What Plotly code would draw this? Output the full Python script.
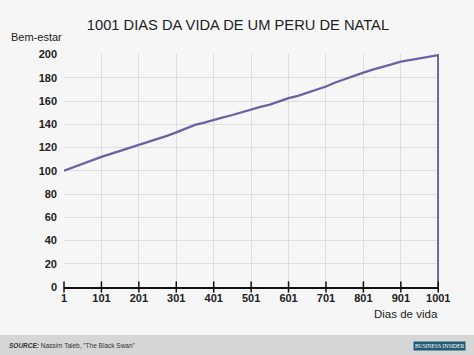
import plotly.graph_objects as go

# Data
days = [1, 26, 51, 76, 101, 126, 151, 176, 201, 226, 251, 276, 301, 326, 351, 376, 401, 426, 451, 476, 501,
        526, 551, 576, 601, 626, 651, 676, 701, 726, 751, 776, 801, 826, 851, 876, 901, 926, 951, 976, 1001, 1001]
wellbeing = [100, 103, 106, 109.5, 112, 114.5, 117, 119.5, 122, 124.5, 127, 130, 133, 136.5, 139.5, 141.5, 144, 146, 148, 150.5, 152.5,
             155, 157, 160, 162.5, 164.5, 167, 169.5, 172.5, 176, 179, 182, 184.5, 187, 189, 191.5, 194, 195.5, 197, 198, 199.5, 0]
x_ticks = [1, 101, 201, 301, 401, 501, 601, 701, 801, 901, 1001]
y_ticks = [0, 20, 40, 60, 80, 100, 120, 140, 160, 180, 200]

FONT = "Liberation Sans, Arial, sans-serif"

fig = go.Figure()
fig.add_trace(go.Scatter(
    x=days, y=wellbeing, mode="lines",
    line=dict(color="#6b62a3", width=2.3),
    hoverinfo="skip", showlegend=False, cliponaxis=False,
))
# tick marks crossing the x axis
fig.add_trace(go.Scatter(
    x=x_ticks, y=[0] * len(x_ticks), mode="markers",
    marker=dict(symbol="line-ns-open", size=8, color="#111", line=dict(color="#111", width=1.5)),
    hoverinfo="skip", showlegend=False, cliponaxis=False,
))

fig.update_layout(
    width=474, height=355,
    margin=dict(l=64, r=35, t=54, b=68),
    paper_bgcolor="#f6f6f6", plot_bgcolor="#f6f6f6",
    font=dict(family=FONT, color="#222"),
    title=dict(text="1001 DIAS DA VIDA DE UM PERU DE NATAL", x=0.502, xanchor="center",
               y=0.93, yanchor="middle", font=dict(size=14.7, color="#222", family=FONT)),
    xaxis=dict(
        range=[1, 1003], tickvals=x_ticks, ticktext=[str(v) for v in x_ticks],
        showgrid=True, gridcolor="#dedede", gridwidth=1,
        zeroline=False, showline=True, linecolor="#111", linewidth=1.5,
        ticks="", tickfont=dict(size=11, color="#222", family=FONT, weight="bold"),
        fixedrange=True,
    ),
    yaxis=dict(
        range=[0, 200.5], tickvals=y_ticks,
        showgrid=True, gridcolor="#dedede", gridwidth=1,
        zeroline=False, showline=False, ticks="",
        tickfont=dict(size=11, color="#222", family=FONT, weight="bold"),
        ticklabelstandoff=6, fixedrange=True,
    ),
    annotations=[
        dict(text="Bem-estar", xref="paper", yref="paper", x=-0.148, y=1.072,
             xanchor="left", yanchor="middle", showarrow=False,
             font=dict(size=11, color="#222", family=FONT)),
        dict(text="Dias de vida", xref="paper", yref="paper", x=1.003, y=-0.118,
             xanchor="right", yanchor="middle", showarrow=False,
             font=dict(size=11.5, color="#222", family=FONT)),
        dict(text="<b><i>SOURCE:</i></b> Nassim Taleb, \"The Black Swan\"", xref="paper", yref="paper",
             x=-0.152, y=-0.252, xanchor="left", yanchor="middle", showarrow=False,
             font=dict(size=6.5, color="#333", family=FONT)),
        dict(text="BUSINESS INSIDER", xref="paper", yref="paper",
             x=1.0, y=-0.253, xanchor="center", yanchor="middle", showarrow=False,
             bgcolor="#215c74", borderpad=1,
             font=dict(size=5.5, color="#ffffff", family="Liberation Serif, serif")),
    ],
    shapes=[
        dict(type="rect", xref="paper", yref="paper", x0=-0.2, x1=1.2, y0=-0.33, y1=-0.206,
             fillcolor="#d6d6d6", line=dict(width=0), layer="below"),
    ],
)

fig.write_html("out.html")
